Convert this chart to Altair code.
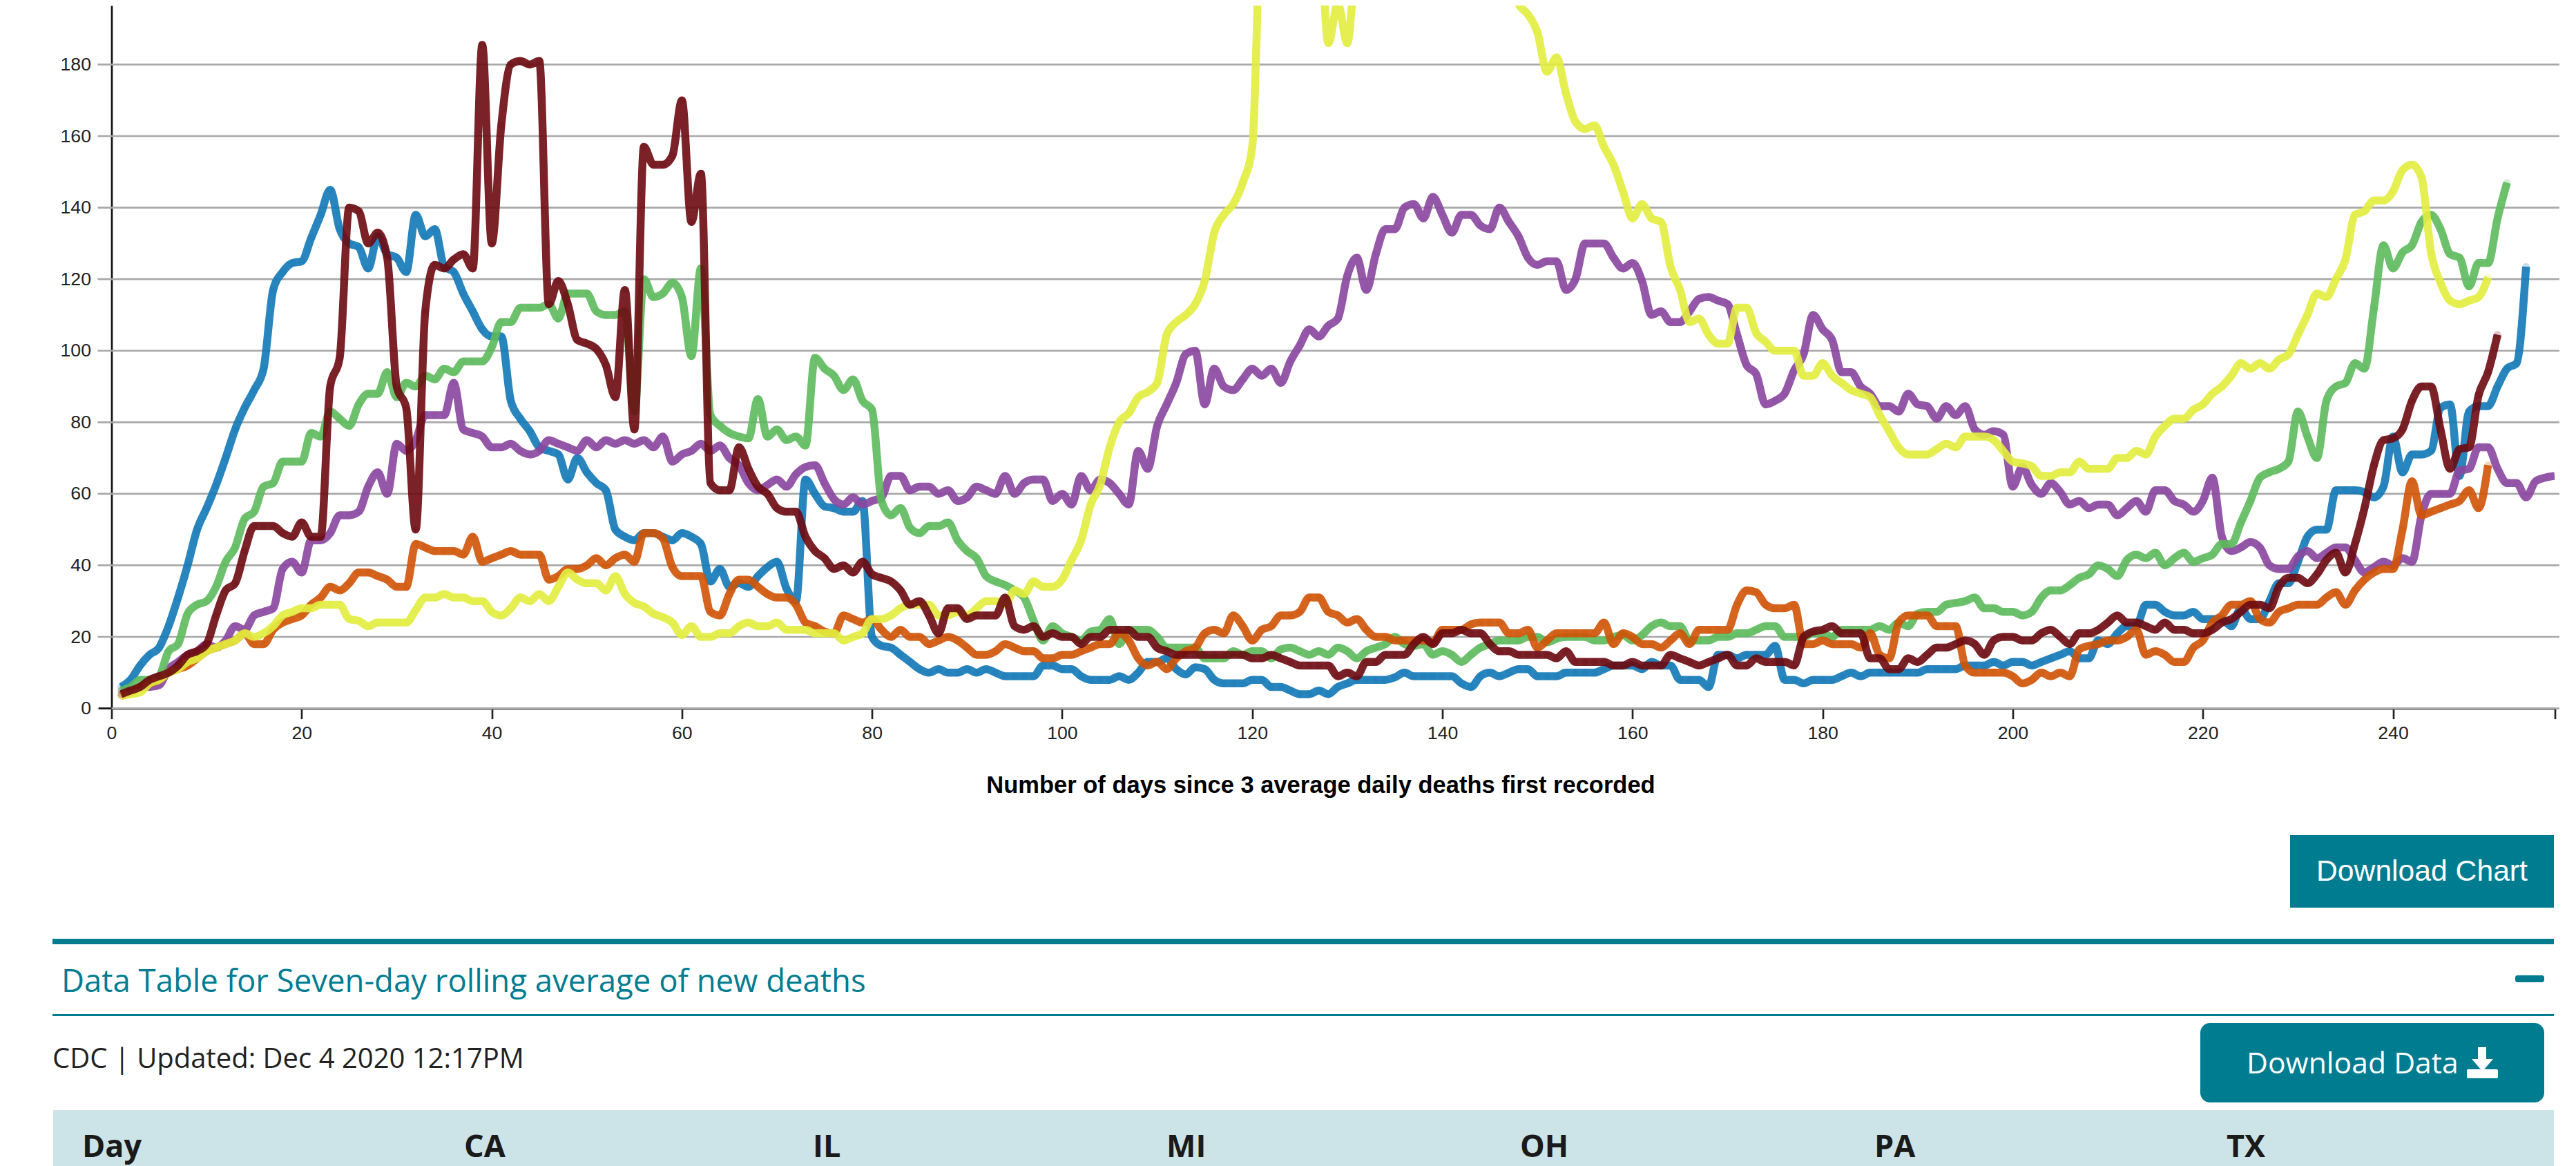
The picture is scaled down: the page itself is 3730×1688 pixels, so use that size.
import altair as alt
import pandas as pd

MI = [6,8,12,15,17,23,31,40,50,56,
62.5,70,78,84,89,95,117,122,124.5,125,
131.5,138,145,134,130,129,123,132,127,126,
122,138,132,134,123.5,122,116,111,106,104,
104,86,81,77.5,73,72,71,64,70,66,
63,61,50,48,47,49,49,48,47,49,
48,46,35.5,39,34,35,34,37,39.5,41,
33.5,30,64,60,56.5,56,55,55,58,20,
17.5,17,15,13,11,10,11,10,10,11,
10,11,10,9,9,9,9,12,12,11,
11,9,8,8,8,9,8,10,13,13,
14,11,9.5,11.5,11,8,7,7,7,8,
8,6,6,5,4,4,5,4,6,7,
8,8,8,8,8.7,10,9,9,9,9,
9,7,6,9,10,9,10,11,11,9,
9,9,10,10,10,10,11,12,12,12,
11,13,12,12,8,8,8,6,15,15,
14,15,15,15,17.5,8,8,7,8,8,
8,9,10,9,10,10,10,10,10,10,
11,11,11,11,12,12,12,13,12,13,
13,12,13,14,15,16,14,14,19,18,
21,23,23,29,29,27,26,26,27,25,
25,25,23,28,25,25,30,35,35,41,
48,50,50,61,61,61,60.5,59,62,76,
66,71,71,72,84,85,65,83,84.5,84.5,
90,95,96.5,123.5]

IL = [5,6,8,8,9,16,18,26.5,29,30,
34,41,45,53,55,62,63,69,69,69,
77,76,83,81,79,85,88,88,94,87,
91,90,93,92,95,94,97,97,97,101,
108,108,112,112,112,113,109,116,116,116,
111,110,110,111,83,120,115,116,119,115,
98.5,123,82,79,77,76,75.5,86.5,76,78,
75,76,73.5,98,95,93,89,92,86,83.5,
58,54,56,50.5,49,51,51,52,47,44,
42,37,35.5,34.5,33,31,24.5,19,23,21,
20,19,21.5,22,25,18,22,22,22,20,
17,17,17,17,14,14,14,16,15,16,
16,14,16.5,17,16,15,16,15,17,16,
14,16,17,18,20,18,17.5,18,15,16,
15,13,15,17,18,19,19,19,20,20,
18.5,19.5,20,20,20,19,19,20,20.5,19,
20.5,23,24,23,23,19,19,19,20,20,
21,21,22,23,23,20,20,20,21,21,
20,22,22,22,22,23,22,24,23,26.5,
27,27,29,29.5,30,31,28,28,27,27,
26,27,31,33,33,34.5,36.5,37.5,40,39,
37,41.5,43,42,43.5,40,42,43.5,41,42,
43,46,46,52,58,64.5,66,67,69,83,
76,70,86,90,91,96.5,95,112,129.5,123,
127.5,129.5,136,138,134,127,126,118,124.5,124.5,
137,147]

PA = [4,5,6,8,9,10,12,15,16,18,
26,33,35,44,51,51,51,49,48,52,
48,48,90,98,140,139,130,133,126,90,
84,50,111,124,123,125.5,127,123,185.5,130,
163,180,181,180,181,113,119.5,113,103,102,
100.5,96,87,117,78,157,152,152,154.5,170,
136,149.5,63,61,61,73,67,62,60,56,
55,55,48,44,42,39,40,38,41,37.5,
36.5,35.5,33,29,30,26,21,28,28,25,
26,26,26,31,23,22,23,20,21,20,
20,18,20,20,22,22,22,20,20,17,
16,15,15,15,15,15,15,15,15,14,
14,15,14,13,12,12,12,12,9,10,
9,13,13,15,15,15,18,20,18,21,
21,22,21,21,18,16,16,15,15,15,
15,14,16,13,13,13,13,12,12,13,
12,12,12,15,14,13,12,13,14,15,
12,12,14,13,13,13,12,20,21.5,22,
23,21,21,21,14,14,11,11,14,13,
15,17,17,18,19,18,15,19,20,20,
19,19,21,22,20,18,21,21,22,24,
26,24,24,23,22,24,22,22,21,21,
22,24,25,27,29,29,28,34,36.5,36.5,
35,37.5,41.5,43.5,38,46,56,68,75,75.5,
78,86,90,90,78,67,72.5,73,87.5,94,
104.5]

CA = [5,5,6,6,6.5,11,13,15,16,18,
17,19,23,22,26,27,28,39,41,38,
47,47,49,54,54,55,62,66,60,74,
72,75,82,82,82,91,78,77,76,73,
73,74,72,71,72,75,74,73,72,75,
73,75,74,75,74,75,73,76,69,71,
72,74,72,73.5,70,68,63,61,62.5,64,
62,65.5,67.5,68,63,58.5,57,59,57,58,
59,65,65,61,62,62,60,61,58,59,
62,61,60,65,60,63,64,64,58,60,
57,65,61,64,63,60,57,72,67,79,
85,91,99,100,85,95,90,89,92,95,
93,95,91,97,101.5,106,104,107,109,121,
126,117,127,134,134,140,141,137,143,138,
133,138,138,135,134,140,136,132,126,124,
125,125,117,120,130,130,130,126,123,124.5,
119.5,110,111,108,108,111,114.5,115,114,113,
104.5,96,93.5,85,86,88,94.5,99,110,106,
103,94,94,90,88,84.5,84.5,83,88,85,
84.5,81,84.5,82,84.5,78,76.5,77.5,76.5,62,
67.5,62.5,60,63,60.5,57,58,56,57,57,
54,56,58,55,61,61,58,57,55,58,
64.5,48,44,45,46.5,45,40,39,39,42.5,
44,42,43.5,45,45,41.5,38,39.5,41,40,
42,41,54,60,60,60,66.5,67,73,73,
67,63,63,59,63.5,64.5,65]

OH = [3.5,4.5,6,7,8,10,11,12,14,16,
17,18,19,21,18,18,22,24,25,26,
29,31,34,33,35,38,38,37,36,34,
34,46,45,44,44,44,43,48,41,42,
43,44,43,43,43,36,37,39,39,40,
42,40,42,43,41,49,49,47.5,39.5,37,
37,37,27,26,32,36,36,34,32,31,
31,29,24,23,21.5,21,26,25,24,25,
22,20,22,20,20,18,19,20,19,17,
15,15,16,18,17,16,16,14,14,15,
15,16,17,18,18,21,19,14,12,13,
11,14,16,17,21,22,21,26,23,19,
22,23,26,26,27,31,31,27,26,24,
25,22,20,20,19,19,19,19,18.5,22,
22,22,23.5,24,24,24,21,21,22,17,
19,21,21,21,21,21,24,18,21,20,
18,18,17,19,21,18,22,22,22,22,
29,33,32.5,29,28,28,29,18,18,19,
18,18,18,17,21,15,14,24,26,26,
26,23,23,23,12,10,10,10,10,9,
7,8,10,9,10,9,16.5,17.5,18,19,
19,20,22,15,16,15,13,13,17,19,
24,26,29,29,30,25,24,27,28,29,
29,29,31,32.5,29,33,36,38,39,39,
50,63.5,54,55,56,57,58,61,56,68]

TX = [3.5,4,4.5,7,8,10,11,13,14,16,
17,18,19,21,20,21,23,26,27,28,
28,29,29,29,25,24.5,23,24,24,24,
24,27.5,31,31,32,31,31,30,30,27,
26,28,31,30,32,30,34,38,36,35,
35,33,37,32,29.5,28.5,26.5,25.5,24,20.5,
23,20,20,21,21,23,24,23,23,24,
22,22,22,21,21,21,19,20,21,25,
25,26,28,29,29,29,26,26,27,26,
28,30,30,29,33,32,35.5,34,34,36,
41.5,47,57,62.5,73,80,82.5,87,88.5,91,
104.5,108,110,113,119.5,133,138,141,147,157,
235,265,280,285,280,260,230,186,197,186,
215,230,240,250,255,250,245,240,235,230,
228,225,222,218,214,210,205,197,194,189,
178,182,172,164,162,163,157,152,144.5,137,
141,137,136,123.5,117,108,109,104.5,102,102,
112,112,105,102.5,100,100,100,93,93,96.5,
93,91,89,88,87,82,77.5,73,71,71,
71,72.5,74,73,76,76,76,75,72,69,
68.5,67.7,65,65,66,66,69,67,67,67,
70,70,72,71,76,79,81,81,83.5,85,
88,90,93,96.5,95,96.5,95,97.5,99,104.5,
110,116,115,120,125.5,138,139,142,142,144.5,
150.5,152,148.5,127.5,119,114,113,114,115,120.5]

SERIES = [("MI", MI, "#1278b6"), ("CA", CA, "#8a469e"), ("IL", IL, "#5dba5c"),
          ("OH", OH, "#cf5306"), ("TX", TX, "#e2ed3f"), ("PA", PA, "#6c0a11")]
Y_TICKS = list(range(0, 181, 20))
X_TICKS = list(range(0, 241, 20)) + [257]
TABLE_HEADERS = ["Day", "CA", "IL", "MI", "OH", "PA", "TX"]
X_TITLE = "Number of days since 3 average daily deaths first recorded"
TABLE_TITLE = "Data Table for Seven-day rolling average of new deaths"
UPDATED = "CDC | Updated: Dec 4 2020 12:17PM"

X0, Y0 = 161.5, 8.0
W, H = 3537.5, 1017.6
TEAL = "#007c91"
SANS = "Liberation Sans"
OPEN = "Open Sans"

def px(v): return alt.value(v - X0)
def py(v): return alt.value(v - Y0)

one = pd.DataFrame({"a": [1]})
xs = alt.Scale(domain=[0, 257], nice=False, zero=False)
ys = alt.Scale(domain=[0, 196.5], nice=False, zero=False)

def rect(x1, x2, y1, y2, color, radius=0):
    kw = {"cornerRadius": radius} if radius else {}
    return alt.Chart(one).mark_rect(color=color, **kw).encode(x=px(x1), x2=px(x2), y=py(y1), y2=py(y2))

def text(s, x, y, size, color, font=OPEN, weight="normal", align="left"):
    return alt.Chart(one).mark_text(text=s, font=font, fontSize=size, color=color, fontWeight=weight,
                                    align=align, baseline="middle").encode(x=px(x), y=py(y))

grid = alt.Chart(pd.DataFrame({"v": Y_TICKS})).mark_rule(color="#a8a8a8", strokeWidth=2.67).encode(
    y=alt.Y("v:Q", scale=ys), x=px(141.5), x2=px(3706))

base = alt.Chart(one).mark_point(opacity=0).encode(
    x=alt.X("a:Q", scale=xs, axis=alt.Axis(
        values=X_TICKS, grid=False, labelFont=SANS, labelFontSize=26.67, labelColor="#222222",
        labelExpr="datum.value > 250 ? '' : datum.label", labelPadding=8, labelFlush=False,
        labelOverlap=False, tickSize=15, tickWidth=2.67, tickColor="#222222", domainColor="#111111",
        domainWidth=2.67, title=X_TITLE, titleFont=SANS, titleFontSize=34.5, titleFontWeight="bold",
        titleColor="#000000", titleX=1912 - X0, titleY=1137 - 1025.6, titleBaseline="middle",
        titleAnchor="middle", titleAlign="center")),
    y=alt.Y("a:Q", scale=ys, axis=alt.Axis(
        values=Y_TICKS, grid=False, ticks=False, labelFont=SANS, labelFontSize=26.67, labelColor="#222222",
        labelPadding=30, domainColor="#111111", domainWidth=2.67, title=None)))

zero_stub = alt.Chart(one).mark_rule(color="#111111", strokeWidth=2.67).encode(
    x=px(143), x2=px(161.5), y=py(1025.6))

layers = [grid, base, zero_stub]
for name, vals, col in SERIES:
    df = pd.DataFrame({"day": range(1, len(vals) + 1), "v": vals})
    enc = dict(x=alt.X("day:Q", scale=xs), y=alt.Y("v:Q", scale=ys))
    layers.append(alt.Chart(df).mark_line(color=col, strokeWidth=11.5, opacity=0.9, clip=True,
                                          interpolate="monotone").encode(**enc))
    layers.append(alt.Chart(df).mark_circle(color=col, size=104, opacity=0.25, clip=True).encode(**enc))

# page furniture under the chart
layers += [
    rect(3316, 3698, 1209, 1314, TEAL),
    text("Download Chart", 3507, 1262, 42.67, "#ffffff", font=SANS, align="center"),
    rect(76, 3698, 1359, 1367, TEAL),
    text(TABLE_TITLE, 89, 1422, 45.5, TEAL),
    rect(3642, 3684, 1412, 1422, TEAL, radius=3),
    rect(76, 3698, 1468, 1471, TEAL),
    text(UPDATED, 76, 1534, 40, "#222222"),
    rect(3186, 3684, 1481, 1596, TEAL, radius=14),
    text("Download Data", 3253, 1541, 42.67, "#ffffff"),
    rect(3588, 3600, 1516, 1534, "#ffffff"),
    alt.Chart(one).mark_point(shape="M -1 -0.58 L 1 -0.58 L 0 0.58 Z", size=961, filled=True, color="#ffffff", opacity=1)
        .encode(x=px(3594.5), y=py(1542)),
    rect(3572, 3617, 1548, 1561, "#ffffff", radius=2),
    rect(77, 3698, 1607, 1688, "#cce4e8"),
]
for label, x in zip(TABLE_HEADERS, [119, 672, 1177, 1689, 2201, 2714, 3224]):
    layers.append(text(label, x, 1661, 45, "#1a1a1a", weight="bold"))

chart = alt.layer(*layers).properties(
    width=W, height=H,
    autosize=alt.AutoSizeParams(type="none"),
    padding={"left": X0 - 8, "top": 0, "right": 3714 - X0 - W, "bottom": 1680 - H},
    background="#ffffff",
).configure_view(stroke=None)

chart.save("out.html", embed_options={"renderer": "svg", "actions": False})
